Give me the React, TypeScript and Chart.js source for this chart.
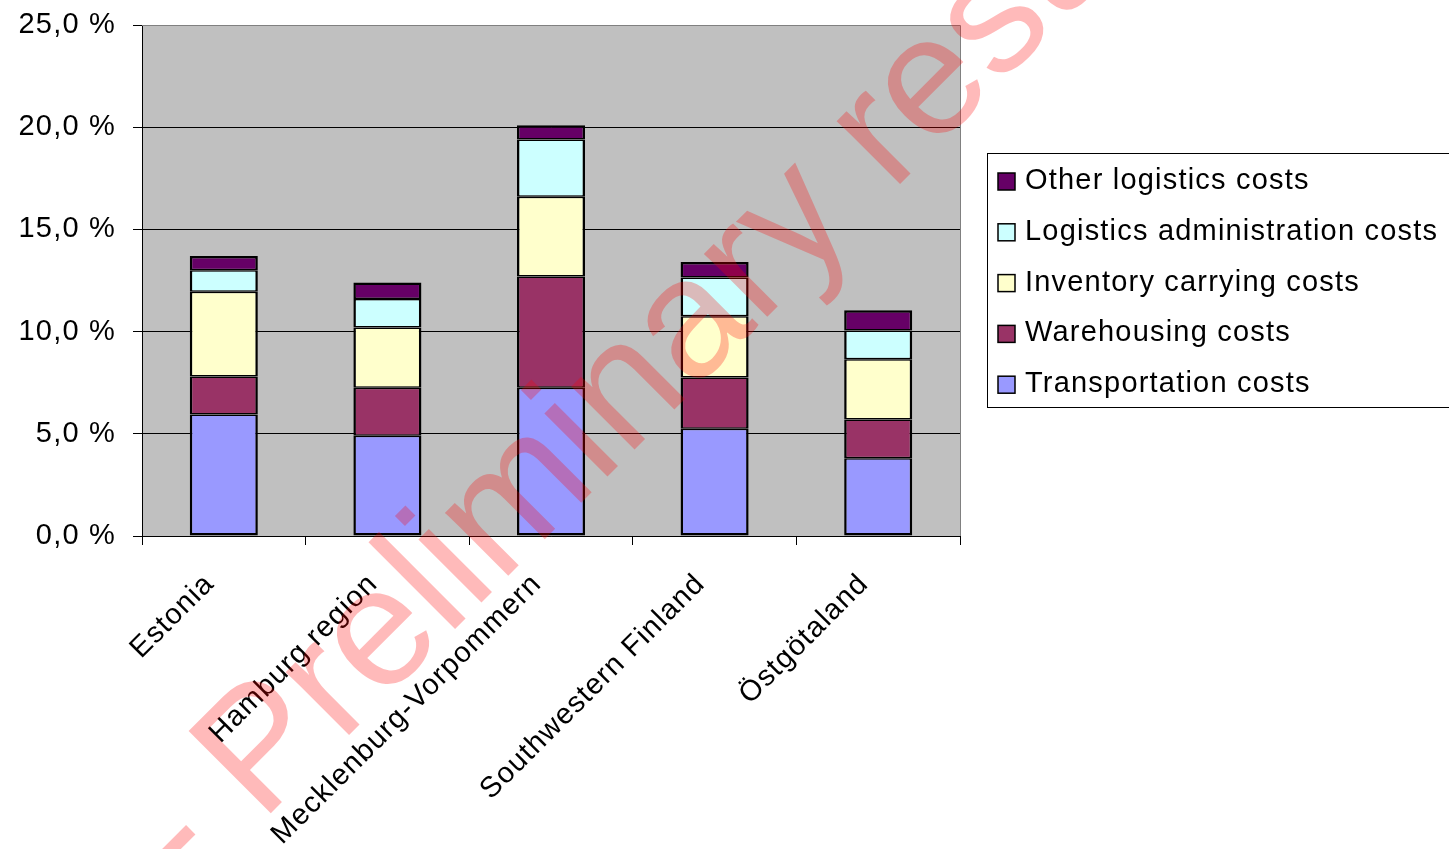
import React, { useEffect, useRef } from "react";
import { Chart, registerables } from "chart.js";

Chart.register(...registerables);

const categories = [
  "Estonia",
  "Hamburg region",
  "Mecklenburg-Vorpommern",
  "Southwestern Finland",
  "Östgötaland",
];
const transportationCosts = [5.95, 4.9, 7.25, 5.25, 3.8];
const warehousingCosts = [1.85, 2.35, 5.45, 2.5, 1.9];
const inventoryCosts = [4.15, 2.95, 3.9, 3.0, 2.95];
const administrationCosts = [1.05, 1.4, 2.8, 1.9, 1.4];
const otherCosts = [0.7, 0.8, 0.7, 0.75, 1.0];
const seriesNames = [
  "Transportation costs",
  "Warehousing costs",
  "Inventory carrying costs",
  "Logistics administration costs",
  "Other logistics costs",
];
const seriesColors = ["#9999FF", "#993366", "#FFFFCC", "#CCFFFF", "#660066"];
const yMin = 0;
const yMax = 25;
const yStep = 5;
const watermarkText = "- Preliminary results";

const FAMILY = "'Liberation Sans', Arial, Helvetica, sans-serif";
const SPACING = "1.2px";
const FONT_SIZE = 29;

const plotStylePlugin = {
  id: "plotStyle",
  beforeUpdate(chart: any) {
    chart.ctx.letterSpacing = SPACING;
  },
  beforeDraw(chart: any) {
    const { ctx, chartArea } = chart;
    ctx.letterSpacing = SPACING;
    ctx.save();
    ctx.fillStyle = "#C0C0C0";
    ctx.fillRect(chartArea.left, chartArea.top, chartArea.right - chartArea.left, chartArea.bottom - chartArea.top);
    ctx.restore();
  },
  beforeDatasetsDraw(chart: any) {
    const { ctx, chartArea } = chart;
    ctx.save();
    ctx.strokeStyle = "#808080";
    ctx.lineWidth = 1;
    ctx.beginPath();
    ctx.moveTo(chartArea.left, chartArea.top + 0.5);
    ctx.lineTo(chartArea.right + 0.5, chartArea.top + 0.5);
    ctx.lineTo(chartArea.right + 0.5, chartArea.bottom);
    ctx.stroke();
    ctx.restore();
  },
  afterDatasetsDraw(chart: any) {
    const { ctx } = chart;
    ctx.save();
    ctx.letterSpacing = "0px";
    ctx.font = `169px ${FAMILY}`;
    ctx.fillStyle = "rgba(255,0,0,0.27)";
    ctx.textAlign = "left";
    ctx.textBaseline = "alphabetic";
    ctx.translate(188, 896);
    ctx.rotate(-Math.PI / 4);
    ctx.fillText(watermarkText, 0, 0);
    ctx.restore();
  },
  afterDraw(chart: any) {
    const { ctx, chartArea } = chart;
    const ds = chart.data.datasets;
    const boxLeft = chartArea.right + 27;
    const boxTop = 153;
    const rowH = 50.8;
    const boxH = 254;
    ctx.save();
    ctx.strokeStyle = "#000";
    ctx.lineWidth = 1;
    ctx.strokeRect(boxLeft + 0.5, boxTop + 0.5, 600, boxH);
    ctx.font = `${FONT_SIZE}px ${FAMILY}`;
    ctx.letterSpacing = SPACING;
    ctx.textAlign = "left";
    ctx.textBaseline = "middle";
    for (let i = 0; i < ds.length; i++) {
      const d = ds[ds.length - 1 - i];
      const cy = boxTop + 27 + i * rowH;
      ctx.fillStyle = d.backgroundColor;
      ctx.fillRect(boxLeft + 11, cy - 7, 17, 17);
      ctx.lineWidth = 1.5;
      ctx.strokeStyle = "#000";
      ctx.strokeRect(boxLeft + 11, cy - 7, 17, 17);
      ctx.fillStyle = "#000";
      ctx.fillText(d.label, boxLeft + 38, cy + 1);
    }
    ctx.restore();
  },
};

function borderFor(i: number, n: number) {
  return {
    top: i === n - 1 ? 2.5 : 1.5,
    bottom: i === 0 ? 2.5 : 1.5,
    left: 2.5,
    right: 2.5,
  };
}

export default function App() {
  const ref = useRef<HTMLCanvasElement | null>(null);
  useEffect(() => {
    if (!ref.current) return;
    const values = [transportationCosts, warehousingCosts, inventoryCosts, administrationCosts, otherCosts];
    const chart = new Chart(ref.current, {
      type: "bar",
      data: {
        labels: categories,
        datasets: values.map((v, i) => ({
          label: seriesNames[i],
          data: v,
          backgroundColor: seriesColors[i],
          borderColor: "#000",
          borderWidth: borderFor(i, values.length),
          borderSkipped: false,
          categoryPercentage: 1,
          barPercentage: 0.416,
        })),
      },
      options: {
        responsive: false,
        animation: false,
        layout: { padding: { top: 25, right: 489, left: 0, bottom: 0 } },
        plugins: {
          legend: { display: false },
          tooltip: { enabled: false },
          title: { display: false },
        },
        scales: {
          x: {
            stacked: true,
            offset: true,
            afterFit: (s: any) => {
              s.height = 313;
              s.paddingLeft = 0;
              s.paddingRight = 0;
            },
            grid: {
              display: true,
              offset: true,
              drawOnChartArea: false,
              drawTicks: true,
              tickLength: 9,
              color: "#000",
              tickColor: "#000",
            },
            border: { display: true, color: "#000", width: 1 },
            ticks: {
              minRotation: 45,
              maxRotation: 45,
              autoSkip: false,
              padding: 22,
              labelOffset: -14,
              color: "#000",
              font: { family: FAMILY, size: FONT_SIZE },
            },
          },
          y: {
            stacked: true,
            min: yMin,
            max: yMax,
            afterFit: (s: any) => {
              s.width = 142;
              s.paddingTop = 0;
              s.paddingBottom = 0;
            },
            grid: {
              color: (c: any) => (c.tick && c.tick.value === yMax ? "#808080" : "#000"),
              tickColor: "#000",
              tickLength: 9,
              lineWidth: 1,
            },
            border: { display: true, color: "#000", width: 1 },
            ticks: {
              stepSize: yStep,
              padding: 17,
              color: "#000",
              font: { family: FAMILY, size: FONT_SIZE },
              callback: (v: any) => Number(v).toFixed(1).replace(".", ",") + " %",
            },
          },
        },
      },
      plugins: [plotStylePlugin],
    });
    return () => chart.destroy();
  }, []);
  return (
    <div style={{ position: "fixed", left: 0, top: 0, width: 1449, height: 849, background: "#fff" }}>
      <canvas ref={ref} width={1449} height={849} style={{ display: "block" }} />
    </div>
  );
}
